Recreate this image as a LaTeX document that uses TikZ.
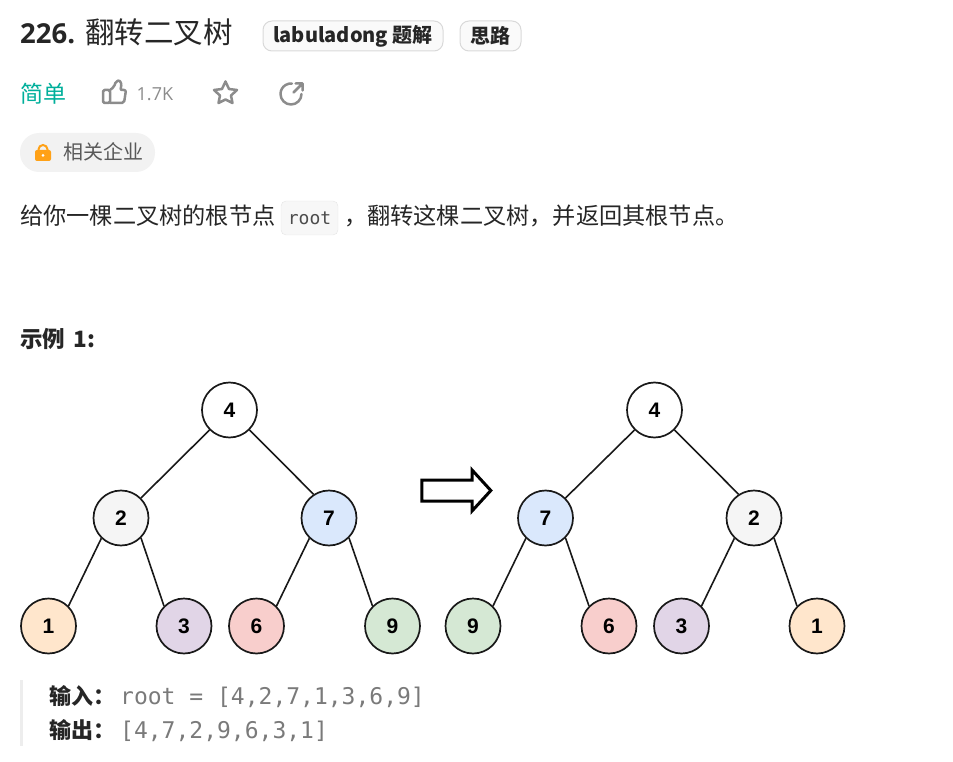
\documentclass[tikz,border=0pt]{standalone}
\usepackage{fontspec}
\setmainfont{Open Sans}
\newfontfamily\cjk{Noto Sans CJK SC}
\newfontfamily\monofont{DejaVu Sans Mono}
\newfontfamily\digitfont{Liberation Sans}
\usetikzlibrary{shapes.arrows, positioning}
\definecolor{inkcolor}{RGB}{38,38,38}
\definecolor{iconcolor}{RGB}{140,140,140}
\definecolor{easycolor}{RGB}{0,175,155}
\definecolor{orangecolor}{RGB}{255,161,22}
\definecolor{greycolor}{HTML}{F5F5F5}
\definecolor{bluecolor}{HTML}{DAE8FC}
\definecolor{peachcolor}{HTML}{FFE6CC}
\definecolor{purplecolor}{HTML}{E1D5E7}
\definecolor{redcolor}{HTML}{F8CECC}
\definecolor{greencolor}{HTML}{D5E8D4}

\begin{document}
\begin{tikzpicture}[
    x=1pt, y=-1pt,
    tnode/.style={circle, draw=black!90, line width=1.7pt, minimum size=55pt, inner sep=0pt, font=\digitfont\fontsize{21}{21}\selectfont\bfseries},
    edge/.style={draw=black!90, line width=1.6pt},
    txt/.style={anchor=base west, inner sep=0pt, text=inkcolor},
    badge/.style={rectangle, draw=black!15, fill=black!2, rounded corners=9pt, line width=1pt, minimum height=30pt, inner sep=0pt, text=inkcolor, font=\cjk\fontsize{20}{20}\selectfont\bfseries},
    icon/.style={draw=iconcolor, line width=2.5pt, line cap=round, line join=round}
]
\useasboundingbox (0,0) rectangle (953,762);

% header
\node[txt] (title) at (20,44) {\fontsize{27.5}{27}\selectfont\bfseries 226.};
\node[txt] (titleb) at (85,44) {\cjk\fontsize{29.5}{28}\selectfont 翻转二叉树};
\node[badge, minimum width=180pt] (sol) at (353,36) {labuladong 题解};
\node[badge, minimum width=61pt] (idea) at (490.5,36) {思路};
\node[txt, text=easycolor] (easy) at (20,103) {\cjk\fontsize{23}{23}\selectfont 简单};
\node[txt, text=iconcolor] (likes) at (136.5,101) {\fontsize{18}{18}\selectfont 1.7K};

% icons
\draw[icon, rounded corners=1.5pt] (103,90) rectangle (110,103);
\draw[icon, rounded corners=2pt] (110,90) -- (114,87) -- (116,81) .. controls (121,80) and (122,85) .. (120,90) -- (126,90) -- (124,103) -- (110,103);
\draw[icon] (225.5,81.5) -- (229,89) -- (237,90) -- (231,95.5) -- (232.5,103) -- (225.5,99.5) -- (218.5,103) -- (220,95.5) -- (214,90) -- (222,89) -- cycle;
\draw[icon] (301.5,94) arc[start angle=0, end angle=275, radius=10.5];
\draw[icon] (293.5,92.5) -- (302,84) (295.5,83.5) -- (302.5,83.5) -- (302.5,90.5);

% company tag
\node[rectangle, fill=black!5, rounded corners=19pt, minimum width=135pt, minimum height=39pt, inner sep=0pt] (tag) at (87.5,152.5) {};
\fill[orangecolor, rounded corners=2pt] (35,150) rectangle (51,161);
\draw[orangecolor, line width=2pt] (38.5,151) -- (38.5,149.5) arc[start angle=180, end angle=360, radius=4.5] -- (47.5,151);
\fill[white] (43,155.5) circle (1.5);
\node[txt, text=black!65] (company) at (63,160) {\cjk\fontsize{20}{20}\selectfont 相关企业};

% description
\node[txt] (desc) at (20,225) {\cjk\fontsize{23.2}{23}\selectfont 给你一棵二叉树的根节点};
\node[rectangle, draw=black!10, fill=black!3, rounded corners=5pt, minimum width=57pt, minimum height=34pt, inner sep=0pt, font=\monofont\fontsize{18}{18}\selectfont, text=black!70] (root) at (309.5,218) {root};
\node[txt] (comma) at (344,225) {\cjk\fontsize{23}{23}\selectfont ，};
\node[txt] (descb) at (367,225) {\cjk\fontsize{23.2}{23}\selectfont 翻转这棵二叉树，并返回其根节点。};
\node[txt] (example) at (20,347) {\cjk\fontsize{22.5}{22}\selectfont\bfseries 示例\hspace{3pt} 1:};

% left tree
\node[tnode] (a4) at (229.5,410) {4};
\node[tnode, fill=greycolor] (a2) at (121,518) {2};
\node[tnode, fill=bluecolor] (a7) at (329,518) {7};
\node[tnode, fill=peachcolor] (a1) at (48.5,626) {1};
\node[tnode, fill=purplecolor] (a3) at (184,626) {3};
\node[tnode, fill=redcolor] (a6) at (256.5,626) {6};
\node[tnode, fill=greencolor] (a9) at (392.5,626) {9};

\draw[edge] (a4.225) -- (a2.45);
\draw[edge] (a4.315) -- (a7.123);
\draw[edge] (a2.226) -- (a1.45);
\draw[edge] (a2.315) -- (a3.135);
\draw[edge] (a7.226) -- (a6.45);
\draw[edge] (a7.315) -- (a9.135);

% right tree
\node[tnode] (b4) at (654.5,410) {4};
\node[tnode, fill=bluecolor] (b7) at (545.5,518) {7};
\node[tnode, fill=greycolor] (b2) at (754,518) {2};
\node[tnode, fill=greencolor] (b9) at (473,626) {9};
\node[tnode, fill=redcolor] (b6) at (609,626) {6};
\node[tnode, fill=purplecolor] (b3) at (681.5,626) {3};
\node[tnode, fill=peachcolor] (b1) at (817,626) {1};

\draw[edge] (b4.225) -- (b7.45);
\draw[edge] (b4.315) -- (b2.123);
\draw[edge] (b7.226) -- (b9.45);
\draw[edge] (b7.315) -- (b6.135);
\draw[edge] (b2.226) -- (b3.45);
\draw[edge] (b2.315) -- (b1.135);

% flip arrow
\node[single arrow, draw=black, line width=3pt, minimum height=69pt, minimum width=40pt, inner xsep=0pt, inner ysep=9pt, single arrow head extend=10pt, single arrow tip angle=95, single arrow head indent=0pt] (flip) at (451.5,490.5) {};

% input and output
\fill[black!7] (20,680) rectangle (23,746);
\node[txt] (inlabel) at (49,704) {\cjk\fontsize{22}{22}\selectfont\bfseries 输入：};
\node[txt, text=black!52] (inval) at (120,704) {\monofont\fontsize{23}{23}\selectfont root = [4,2,7,1,3,6,9]};
\node[txt] (outlabel) at (49,738) {\cjk\fontsize{22}{22}\selectfont\bfseries 输出：};
\node[txt, text=black!52] (outval) at (120,738) {\monofont\fontsize{23}{23}\selectfont [4,7,2,9,6,3,1]};
\end{tikzpicture}
\end{document}
